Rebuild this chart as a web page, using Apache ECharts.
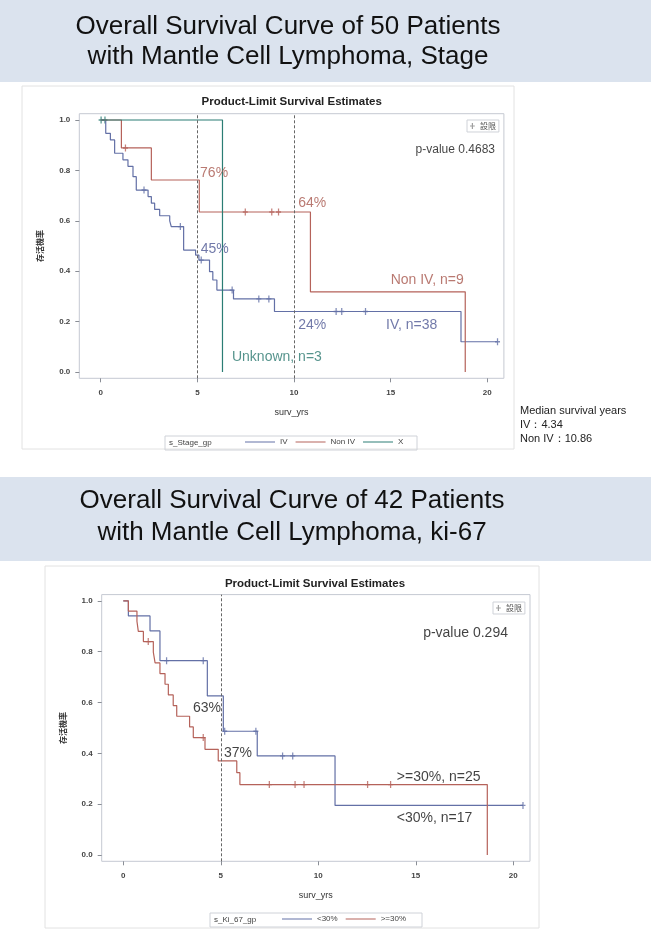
<!DOCTYPE html>
<html>
<head>
<meta charset="utf-8">
<script src="https://cdn.jsdelivr.net/npm/echarts@6/dist/echarts.min.js"></script>
<style>
html, body { margin: 0; padding: 0; background: #fff; }
#main { width: 651px; height: 941px; }
</style>
</head>
<body>
<div id="main"></div>
<script>
// ---- top chart: stage groups, [years, survival] after each drop ----
const stageIV = [[0, 1], [0.26, 0.947], [0.5, 0.921], [0.72, 0.868], [1.15, 0.842], [1.41, 0.816],
  [1.67, 0.775], [1.84, 0.722], [2.45, 0.696], [2.62, 0.67], [2.79, 0.645], [3.05, 0.62],
  [3.57, 0.6], [3.65, 0.577], [4.29, 0.484], [4.91, 0.464], [5.08, 0.444], [5.63, 0.398],
  [5.8, 0.365], [6.01, 0.325], [6.87, 0.29], [8.99, 0.24], [18.64, 0.12], [20.53, 0.12]]
const stageIVCens = [[2.24, 0.722], [4.12, 0.577], [5.2, 0.444], [6.8, 0.325], [8.18, 0.29],
  [8.7, 0.29], [12.18, 0.24], [12.47, 0.24], [13.7, 0.24], [20.53, 0.12]]
const stageNonIV = [[0, 1], [1.07, 0.889], [2.62, 0.762], [5.1, 0.635], [10.85, 0.318], [18.86, 0]]
const stageNonIVCens = [[1.28, 0.889], [7.48, 0.635], [8.85, 0.635], [9.2, 0.635]]
const stageX = [[0, 1], [6.3, 0]]
const stageXCens = [[0.02, 1], [0.22, 1]]
const stageRefLines = [5, 10]
const stageIVNotes = [[5.17, 0.488, '45%'], [10.22, 0.187, '24%'], [14.76, 0.184, 'IV, n=38']]
const stageNonIVNotes = [[5.14, 0.791, '76%'], [10.22, 0.669, '64%'], [15.0, 0.365, 'Non IV, n=9']]
const stageXNotes = [[6.79, 0.058, 'Unknown, n=3']]
const stagePNote = [[20.4, 0.884, 'p-value 0.4683']]
const stageLegend = ['IV', 'Non IV', 'X']
const medianLines = ['Median survival years', 'IV\uff1a4.34', 'Non IV\uff1a10.86']

// ---- bottom chart: ki-67 groups ----
const kiLow = [[0, 1], [0.26, 0.941], [1.37, 0.882], [1.88, 0.765], [4.31, 0.626], [5.13, 0.487],
  [6.87, 0.39], [10.86, 0.195], [20.5, 0.195]]
const kiLowCens = [[2.22, 0.765], [4.1, 0.765], [5.2, 0.487], [6.8, 0.487], [8.17, 0.39],
  [8.69, 0.39], [20.5, 0.195]]
const kiHigh = [[0, 1], [0.26, 0.96], [0.7, 0.92], [0.77, 0.88], [1.03, 0.84], [1.54, 0.798],
  [1.63, 0.756], [1.88, 0.714], [2.14, 0.672], [2.31, 0.63], [2.56, 0.588], [2.74, 0.546],
  [3.4, 0.504], [3.59, 0.462], [4.19, 0.416], [4.87, 0.37], [5.82, 0.324], [5.98, 0.277], [18.67, 0]]
const kiHighCens = [[1.28, 0.84], [4.1, 0.462], [7.49, 0.277], [8.81, 0.277], [9.27, 0.277],
  [12.53, 0.277], [13.71, 0.277]]
const kiRefLines = [5]
const kiNotes = [[3.57, 0.579, '63%'], [5.16, 0.40, '37%'], [14.03, 0.307, '>=30%, n=25'],
  [14.03, 0.146, '<30%, n=17']]
const kiPNote = [[19.73, 0.874, 'p-value 0.294']]
const kiLegend = ['<30%', '>=30%']

const xTicks = [0, 5, 10, 15, 20]
const yTicks = [0, 0.2, 0.4, 0.6, 0.8, 1.0]
// SAS pads both axes a little past the data range
const xRange = [-1.108, 20.86]
const yRange = [-0.025, 1.025]

const BLUE = '#6370a6'
const RED = '#b5625a'
const GREEN = '#2b7d74'
const PLUS = 'path://M4,0 H6 V10 H4 Z M1,4 H9 V6 H1 Z'
const FONT = '"Liberation Sans", Arial, sans-serif'

let chart = echarts.init(document.getElementById('main'), null, {renderer: 'canvas'})

let makeX = (idx, gap) => ({
  gridIndex: idx, type: 'value', min: xRange[0], max: xRange[1],
  axisLine: {show: false, onZero: false},
  axisTick: {show: true, length: 4, customValues: xTicks, lineStyle: {color: '#8a8e96'}},
  axisLabel: {customValues: xTicks, fontSize: 8, fontWeight: 'bold', color: '#444', margin: 10, fontFamily: FONT},
  splitLine: {show: false},
  name: 'surv_yrs', nameLocation: 'middle', nameGap: gap,
  nameTextStyle: {fontSize: 9, color: '#333', fontFamily: FONT}
})
let makeY = (idx, gap) => ({
  gridIndex: idx, type: 'value', min: yRange[0], max: yRange[1],
  axisLine: {show: false, onZero: false},
  axisTick: {show: true, length: 4, customValues: yTicks, lineStyle: {color: '#8a8e96'}},
  axisLabel: {customValues: yTicks, fontSize: 8, fontWeight: 'bold', color: '#444', margin: 9,
    fontFamily: FONT, formatter: v => v.toFixed(1)},
  splitLine: {show: false},
  name: '存活機率', nameLocation: 'middle', nameGap: gap, nameRotate: 90,
  nameTextStyle: {fontSize: 8, fontWeight: 'bold', color: '#333', fontFamily: '"Noto Sans CJK TC"'}
})
let curve = (name, idx, data, color, refs) => ({
  name: name, type: 'line', step: 'end', xAxisIndex: idx, yAxisIndex: idx,
  data: data, symbol: 'none', clip: false, silent: true,
  lineStyle: {color: color, width: 1.2}, itemStyle: {color: color},
  emphasis: {disabled: true},
  markLine: refs ? {
    silent: true, symbol: 'none', label: {show: false},
    lineStyle: {type: [3, 2], color: '#666', width: 1},
    data: refs.map(v => ({xAxis: v}))
  } : undefined
})
let cens = (idx, data, color) => ({
  name: '設限', type: 'scatter', xAxisIndex: idx, yAxisIndex: idx, data: data,
  symbol: PLUS, symbolSize: [5, 7], clip: false, silent: true,
  itemStyle: {color: color}, emphasis: {disabled: true}
})
let notes = (idx, data, color, size, side) => ({
  type: 'scatter', xAxisIndex: idx, yAxisIndex: idx, data: data,
  symbolSize: 0, clip: false, silent: true, z: 10,
  label: {show: true, position: side || 'right', distance: 0, color: color, fontSize: size,
    fontFamily: FONT, formatter: p => p.value[2]},
  emphasis: {disabled: true}
})
let ksTitle = (x, y) => ({
  text: 'Product-Limit Survival Estimates', left: x, top: y, textAlign: 'center', padding: 0,
  textStyle: {fontSize: 11.5, fontWeight: 'bold', color: '#222', fontFamily: FONT}
})
let censLegend = (x, y) => ({
  data: [{name: '設限', icon: PLUS, itemStyle: {color: '#888'}}],
  left: x, top: y, itemWidth: 5, itemHeight: 6, itemGap: 3,
  borderColor: '#cfd2d8', borderWidth: 1, padding: [2, 3, 2, 3], selectedMode: false,
  textStyle: {fontSize: 8, color: '#555', fontFamily: '"Noto Sans CJK TC"'}
})
let groupLegend = (names, x, y) => ({
  data: names, left: x, top: y, icon: 'rect', itemWidth: 30, itemHeight: 1, itemGap: 8,
  padding: 0, selectedMode: false,
  textStyle: {fontSize: 8, color: '#444', fontFamily: FONT}
})

const option = {
  animation: false,
  backgroundColor: '#fff',
  title: [ksTitle(291.7, 96), ksTitle(315, 578)],
  legend: [
    groupLegend(stageLegend, 245, 438),
    groupLegend(kiLegend, 282, 915),
    censLegend(467, 120),
    censLegend(493, 602)
  ],
  grid: [
    {left: 79.3, top: 113.7, width: 424.6, height: 264.6, show: true, borderColor: '#c5c9d2', borderWidth: 1},
    {left: 101.7, top: 594.6, width: 428.3, height: 266.7, show: true, borderColor: '#c5c9d2', borderWidth: 1}
  ],
  xAxis: [makeX(0, 30), makeX(1, 30)],
  yAxis: [makeY(0, 35), makeY(1, 35)],
  series: [
    curve('IV', 0, stageIV, BLUE, stageRefLines),
    curve('Non IV', 0, stageNonIV, RED),
    curve('X', 0, stageX, GREEN),
    cens(0, stageIVCens, BLUE),
    cens(0, stageNonIVCens, RED),
    cens(0, stageXCens, GREEN),
    notes(0, stageIVNotes, '#4d5893', 14),
    notes(0, stageNonIVNotes, '#a8574d', 14),
    notes(0, stageXNotes, '#2a786f', 14),
    notes(0, stagePNote, '#111', 12, 'left'),

    curve('<30%', 1, kiLow, BLUE, kiRefLines),
    curve('>=30%', 1, kiHigh, RED),
    cens(1, kiLowCens, BLUE),
    cens(1, kiHighCens, RED),
    notes(1, kiNotes, '#111', 14),
    notes(1, kiPNote, '#111', 14, 'left')
  ],
  graphic: [
    {type: 'rect', z: -10, shape: {x: 0, y: 0, width: 651, height: 82}, style: {fill: '#dbe3ee'}},
    {type: 'rect', z: -10, shape: {x: 0, y: 477, width: 651, height: 84}, style: {fill: '#dbe3ee'}},
    {type: 'text', x: 288, y: 42, style: {
      text: 'Overall Survival Curve of 50 Patients\nwith Mantle Cell Lymphoma, Stage',
      align: 'center', verticalAlign: 'middle', fontSize: 26, lineHeight: 30, fontFamily: FONT, fill: '#111'}},
    {type: 'text', x: 292, y: 517, style: {
      text: 'Overall Survival Curve of 42 Patients\nwith Mantle Cell Lymphoma, ki-67',
      align: 'center', verticalAlign: 'middle', fontSize: 26, lineHeight: 32, fontFamily: FONT, fill: '#111'}},
    // frames of the two pasted SAS pictures
    {type: 'rect', z: -5, shape: {x: 22, y: 86, width: 492, height: 363}, style: {fill: 'none', stroke: '#e2e2e2'}},
    {type: 'rect', z: -5, shape: {x: 45, y: 566, width: 494, height: 362}, style: {fill: 'none', stroke: '#e2e2e2'}},
    // group legend boxes
    {type: 'rect', shape: {x: 165, y: 436, width: 252, height: 14}, style: {fill: 'none', stroke: '#cfd2d8'}},
    {type: 'text', x: 169, y: 443, style: {text: 's_Stage_gp', verticalAlign: 'middle', fontSize: 8, fill: '#444', fontFamily: FONT}},
    {type: 'rect', shape: {x: 210, y: 913, width: 212, height: 14}, style: {fill: 'none', stroke: '#cfd2d8'}},
    {type: 'text', x: 214, y: 920, style: {text: 's_Ki_67_gp', verticalAlign: 'middle', fontSize: 8, fill: '#444', fontFamily: FONT}},
    {type: 'text', x: 520, y: 404, style: {
      text: medianLines.join('\n'), fontSize: 11, lineHeight: 14, fontFamily: FONT, fill: '#222'}}
  ]
}
chart.setOption(option)
</script>
</body>
</html>
